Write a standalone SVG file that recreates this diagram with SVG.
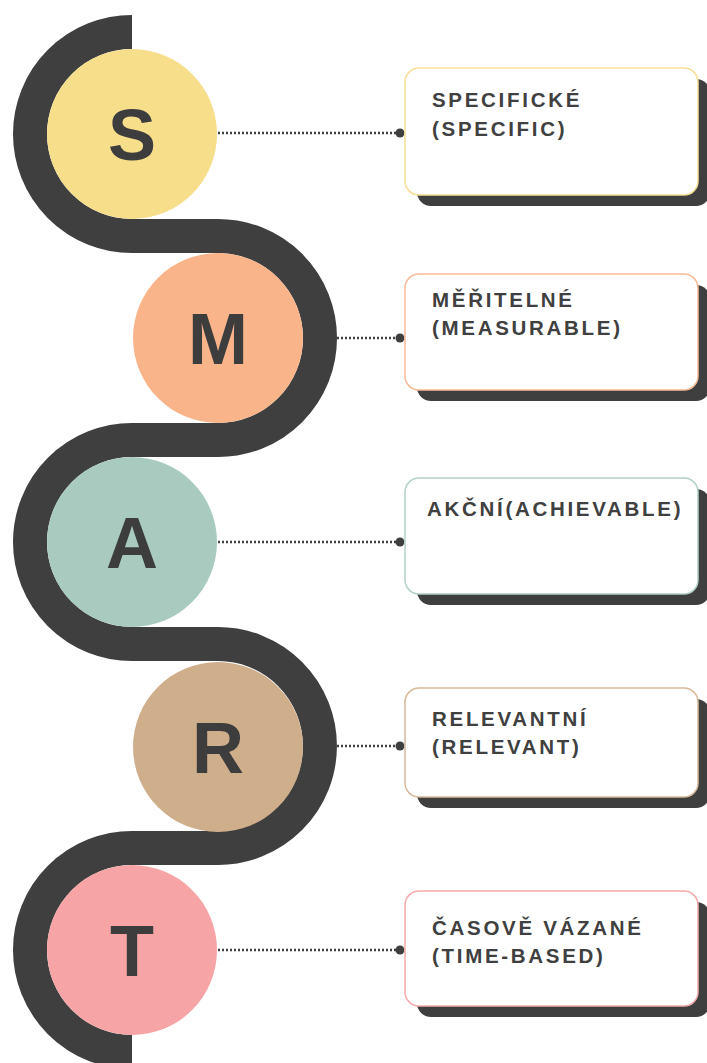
<svg xmlns="http://www.w3.org/2000/svg" width="707" height="1063" viewBox="0 0 707 1063">
<style>
.band{fill:none;stroke:#3f3f3f;stroke-width:34}
.big{font-family:"Liberation Sans",Arial,sans-serif;font-weight:bold;font-size:72px;fill:#3d3d3d;text-anchor:middle}
.lbl{font-family:"Liberation Sans",Arial,sans-serif;font-weight:bold;font-size:20.5px;fill:#404040;letter-spacing:2.7px}
.shadow{fill:#3f3f3f}
.box{fill:#ffffff;stroke-width:1.5}
.conn{stroke:#3f3f3f;stroke-width:2.5;stroke-dasharray:2 2;fill:none}
.dot{fill:#3f3f3f}
</style>
<rect width="707" height="1063" fill="#ffffff"/>
<g id="band">
<path class="band" d="M 132 32 A 102 102 0 0 0 132 236 L 218 236 A 102 102 0 0 1 218 440 L 132 440 A 102 102 0 0 0 132 644 L 218 644 A 102 102 0 0 1 218 848 L 132 848 A 102 102 0 0 0 132 1052"/>
</g>
<g id="connectors">
<line class="conn" x1="218" y1="133" x2="398" y2="133"/>
<circle class="dot" cx="400" cy="133" r="4.5"/>
<line class="conn" x1="337" y1="338" x2="398" y2="338"/>
<circle class="dot" cx="400" cy="338" r="4.5"/>
<line class="conn" x1="218" y1="542" x2="398" y2="542"/>
<circle class="dot" cx="400" cy="542" r="4.5"/>
<line class="conn" x1="337" y1="746" x2="398" y2="746"/>
<circle class="dot" cx="400" cy="746" r="4.5"/>
<line class="conn" x1="218" y1="950" x2="398" y2="950"/>
<circle class="dot" cx="400" cy="950" r="4.5"/>
</g>
<g id="node-s">
<circle cx="132" cy="134" r="85" fill="#f7de8b"/>
<text class="big" x="132" y="160">S</text>
</g>
<g id="node-m">
<circle cx="218" cy="338" r="85" fill="#f9b48a"/>
<text class="big" x="218" y="364">M</text>
</g>
<g id="node-a">
<circle cx="132" cy="542" r="85" fill="#a9cbbf"/>
<text class="big" x="132" y="568">A</text>
</g>
<g id="node-r">
<circle cx="218" cy="747" r="85" fill="#cfae8c"/>
<text class="big" x="218" y="773">R</text>
</g>
<g id="node-t">
<circle cx="132" cy="950" r="85" fill="#f6a4a5"/>
<text class="big" x="132" y="976">T</text>
</g>
<g id="box-s">
<rect class="shadow" x="417" y="79" width="293" height="127" rx="14"/>
<rect class="box" x="405" y="68" width="293" height="127" rx="14" stroke="#f6df95"/>
<text class="lbl" x="432" y="107">SPECIFICKÉ</text>
<text class="lbl" x="432" y="136">(SPECIFIC)</text>
</g>
<g id="box-m">
<rect class="shadow" x="417" y="285" width="293" height="116" rx="14"/>
<rect class="box" x="405" y="274" width="293" height="116" rx="14" stroke="#f9bb98"/>
<text class="lbl" x="432" y="307">MĚŘITELNÉ</text>
<text class="lbl" x="432" y="335">(MEASURABLE)</text>
</g>
<g id="box-a">
<rect class="shadow" x="417" y="489" width="293" height="116" rx="14"/>
<rect class="box" x="405" y="478" width="293" height="116" rx="14" stroke="#b3d1c6"/>
<text class="lbl" x="427" y="516">AKČNÍ(ACHIEVABLE)</text>
</g>
<g id="box-r">
<rect class="shadow" x="417" y="699" width="293" height="109" rx="14"/>
<rect class="box" x="405" y="688" width="293" height="109" rx="14" stroke="#d8b99a"/>
<text class="lbl" x="432" y="726">RELEVANTNÍ</text>
<text class="lbl" x="432" y="754">(RELEVANT)</text>
</g>
<g id="box-t">
<rect class="shadow" x="417" y="902" width="293" height="115" rx="14"/>
<rect class="box" x="405" y="891" width="293" height="115" rx="14" stroke="#f6abab"/>
<text class="lbl" x="432" y="935">ČASOVĚ VÁZANÉ</text>
<text class="lbl" x="432" y="963">(TIME-BASED)</text>
</g>
</svg>
